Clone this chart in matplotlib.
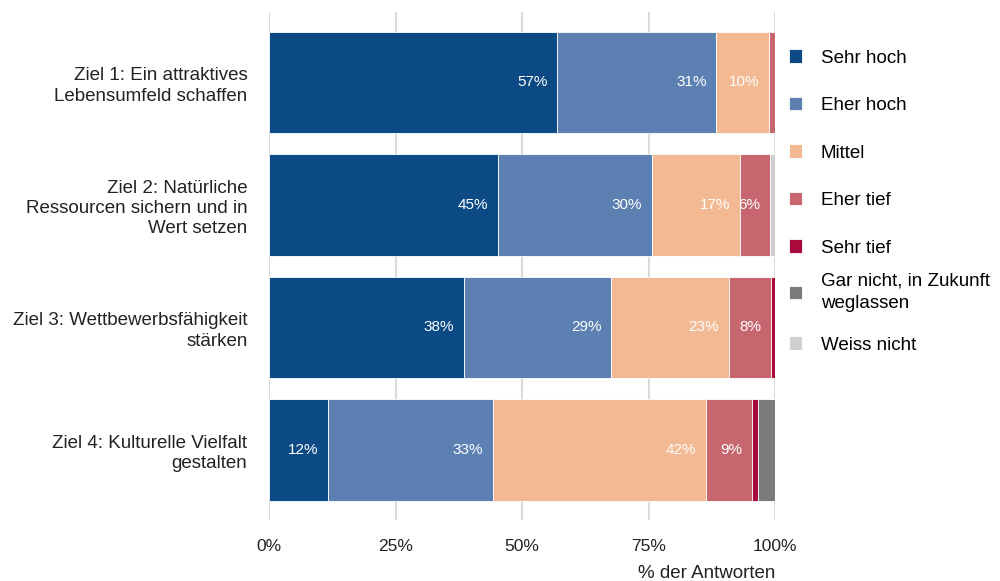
#!/usr/bin/env python3
# -*- coding: utf-8 -*-
# Gestapelte Balken: Bewertung der Ziele
import numpy as np
import matplotlib
matplotlib.use('Agg')
import matplotlib.pyplot as plt
import matplotlib.ticker as mtick

plt.rcParams['font.family'] = ['Liberation Sans', 'DejaVu Sans']

ziele = ['Ziel 1: Ein attraktives\nLebensumfeld schaffen',
         'Ziel 2: Natürliche\nRessourcen sichern und in\nWert setzen',
         'Ziel 3: Wettbewerbsfähigkeit\nstärken',
         'Ziel 4: Kulturelle Vielfalt\ngestalten']

kategorien = ['Sehr hoch', 'Eher hoch', 'Mittel', 'Eher tief', 'Sehr tief',
              'Gar nicht, in Zukunft\nweglassen', 'Weiss nicht']

# Anteile in % pro Ziel (Zeilen = Kategorien)
sehr_hoch = [57.0, 45.3, 38.5, 11.7]
eher_hoch = [31.4, 30.4, 29.1, 32.6]
mittel = [10.4, 17.4, 23.3, 42.0]
eher_tief = [1.2, 5.9, 8.3, 9.2]
sehr_tief = [0.0, 0.0, 0.8, 1.2]
gar_nicht = [0.0, 0.0, 0.0, 3.3]
weiss_nicht = [0.0, 1.0, 0.0, 0.0]

farben = ['#0b4a84', '#5c80b2', '#f2b993', '#c8666f', '#a80a3b',
          '#7b7b7b', '#d0d0d0']

x_ticks = [0, 25, 50, 75, 100]


def draw_bars():
    werte = [sehr_hoch, eher_hoch, mittel, eher_tief, sehr_tief,
             gar_nicht, weiss_nicht]

    fig = plt.figure(figsize=(10, 5.81), dpi=100)
    ax = fig.add_axes([0.269, 0.105, 0.506, 0.874])

    y = np.arange(len(ziele))
    links = np.zeros(len(ziele))
    handles = []
    for name, w, c in zip(kategorien, werte, farben):
        w = np.array(w)
        h = ax.barh(y, w, left=links, height=0.83, color=c, label=name,
                    edgecolor='white', linewidth=0.6, zorder=3)
        handles.append(h)
        for yi, li, wi in zip(y, links, w):
            if wi >= 5:
                ax.annotate('%d%%' % round(wi), xy=(li + wi, yi),
                            xytext=(-7, 0), textcoords='offset points',
                            ha='right', va='center', color='white',
                            fontsize=11, zorder=4)
        links += w

    ax.set_xlim(0, 100)
    ax.set_ylim(len(ziele) - 0.426, -0.574)
    ax.set_xticks(x_ticks)
    ax.xaxis.set_major_formatter(mtick.PercentFormatter(decimals=0))
    ax.set_yticks(y)
    ax.set_yticklabels(ziele, fontsize=13.5, linespacing=1.25)
    ax.tick_params(axis='x', labelsize=12.5, length=0, pad=14, colors='#222222')
    ax.tick_params(axis='y', length=0, pad=15.5, colors='#222222')
    ax.grid(axis='x', color='#dadada', linewidth=1.5, zorder=0)
    for s in ax.spines.values():
        s.set_visible(False)

    ax.set_xlabel('% der Antworten', fontsize=13.5, color='#222222')
    ax.xaxis.set_label_coords(1.0, -0.088, transform=ax.transAxes)
    ax.xaxis.label.set_ha('right')

    # Legende in zwei Teilen, damit der zweizeilige Eintrag nicht zu viel Platz nimmt
    leg_args = dict(loc='upper left', frameon=False, fontsize=13.5,
                    handlelength=0.7, handleheight=0.7, handletextpad=1.0)
    leg1 = ax.legend(handles[:5], kategorien[:5], bbox_to_anchor=(0.994, 0.96),
                     labelspacing=1.62, **leg_args)
    ax.add_artist(leg1)
    leg2 = ax.legend(handles[5:], kategorien[5:], bbox_to_anchor=(0.994, 0.52),
                     labelspacing=1.3, **leg_args)
    leg2.get_texts()[0].set_linespacing(1.4)

    fig.savefig('out.png', dpi=100)


def main():
    draw_bars()


if __name__ == "__main__":
    main()
